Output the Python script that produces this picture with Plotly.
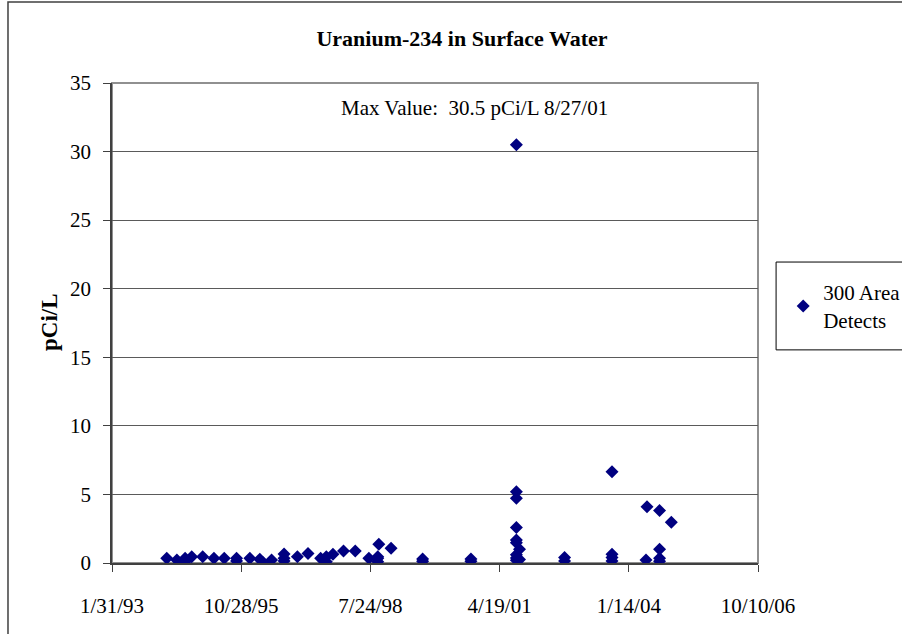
import plotly.graph_objects as go
import pandas as pd

# 300 Area detects
sample_dates = [
    "1994-03-31", "1994-06-17", "1994-08-20", "1994-08-20", "1994-10-10",
    "1995-01-03", "1995-03-31", "1995-06-19", "1995-09-22", "1995-09-22",
    "1996-01-03", "1996-03-20", "1996-04-15", "1996-06-19", "1996-09-24",
    "1996-09-24", "1996-09-24", "1997-01-05", "1997-03-28", "1997-07-04",
    "1997-08-17", "1997-08-17", "1997-10-07", "1997-12-28", "1998-03-29",
    "1998-07-12", "1998-09-19", "1998-09-19", "1998-09-19", "1998-09-27",
    "1998-12-31", "1999-09-01", "1999-09-01", "2000-09-09", "2000-09-09",
    "2001-08-27", "2001-08-27", "2001-08-27", "2001-08-27", "2001-08-27",
    "2001-08-27", "2001-09-20", "2001-08-27", "2001-08-27", "2001-08-27",
    "2001-09-20", "2002-09-04", "2002-09-04", "2003-09-06", "2003-09-06",
    "2003-09-06", "2003-09-06", "2004-05-26", "2004-06-03", "2004-09-08",
    "2004-09-08", "2004-09-08", "2004-09-08", "2004-12-08",
]
u234_values = [
    0.34, 0.22, 0.34, 0.10, 0.46,
    0.46, 0.34, 0.34, 0.34, 0.15,
    0.34, 0.27, 0.02, 0.22, 0.66,
    0.34, 0.15, 0.46, 0.70, 0.34,
    0.46, 0.10, 0.63, 0.87, 0.87,
    0.34, 0.46, 0.10, 0.34, 1.36,
    1.07, 0.30, 0.12, 0.30, 0.12,
    30.5, 5.2, 4.72, 2.58, 1.68,
    1.48, 1.0, 0.6, 0.36, 0.2,
    0.25, 0.4, 0.15, 6.66, 0.63,
    0.4, 0.15, 0.22, 4.1, 3.82,
    1.0, 0.35, 0.12, 2.97,
]

tick_dates = ["1993-01-31", "1995-10-28", "1998-07-24", "2001-04-19", "2004-01-14", "2006-10-10"]
tick_labels = ["1/31/93", "10/28/95", "7/24/98", "4/19/01", "1/14/04", "10/10/06"]
y_ticks = [0, 5, 10, 15, 20, 25, 30, 35]

df = pd.DataFrame({"date": pd.to_datetime(sample_dates), "value": u234_values})

serif = "Liberation Serif, Times New Roman, serif"

fig = go.Figure()
fig.add_trace(go.Scatter(
    x=df["date"], y=df["value"],
    mode="markers",
    name="300 Area<br>Detects",
    marker=dict(symbol="diamond", size=10, color="#000080"),
))

fig.update_layout(
    width=902, height=634,
    margin=dict(l=112, r=144, t=83, b=71, autoexpand=False),
    paper_bgcolor="white",
    plot_bgcolor="white",
    font=dict(family=serif, size=20, color="black"),
    title=dict(
        text="<b>Uranium-234 in Surface Water</b>",
        x=(462 - 112) / 646, xanchor="center", xref="paper",
        y=1 - 38 / 634, yanchor="middle",
        font=dict(size=22, family=serif),
    ),
    showlegend=True,
    legend=dict(
        x=1.039, y=0.606, xanchor="left", yanchor="top",
        bgcolor="rgba(0,0,0,0)",
        font=dict(size=21, family=serif),
        itemwidth=30,
    ),
    shapes=[
        # outer chart frame
        dict(type="rect", xref="paper", yref="paper",
             x0=-0.161, x1=1.25, y0=-0.2, y1=1.169,
             line=dict(color="#404040", width=1.5), layer="below"),
        # plot area frame
        dict(type="rect", xref="paper", yref="paper",
             x0=0, x1=1, y0=0, y1=1,
             line=dict(color="#909090", width=2), layer="below"),
        # legend box
        dict(type="rect", xref="paper", yref="paper",
             x0=1.028, x1=1.25, y0=0.444, y1=0.627,
             line=dict(color="black", width=1)),
    ],
    annotations=[
        dict(text="Max Value:  30.5 pCi/L 8/27/01",
             xref="paper", yref="y", x=(474 - 112) / 646, y=33.2,
             showarrow=False, font=dict(size=21, family=serif)),
        dict(text="<b>pCi/L</b>", textangle=-90,
             xref="paper", yref="paper", x=(49 - 112) / 646, y=(563 - 322) / 480,
             xanchor="center", yanchor="middle",
             showarrow=False, font=dict(size=23, family=serif)),
    ],
)

fig.update_xaxes(
    type="date",
    range=[tick_dates[0], tick_dates[-1]],
    tickmode="array", tickvals=tick_dates, ticktext=tick_labels,
    ticks="outside", ticklen=7, tickcolor="#404040",
    ticklabelstandoff=16,
    showline=True, linecolor="#404040", linewidth=1.5,
    showgrid=False, zeroline=False,
    tickfont=dict(size=21, family=serif),
)
fig.update_yaxes(
    range=[0, 35],
    tickmode="array", tickvals=y_ticks,
    ticks="outside", ticklen=7, tickcolor="#404040",
    ticklabelstandoff=8,
    showline=True, linecolor="#404040", linewidth=1.5,
    showgrid=True, gridcolor="#5a5a5a", gridwidth=1,
    zeroline=False,
    tickfont=dict(size=21, family=serif),
)

# page body has a default 8px margin; drop it so the figure sits at 0,0
fig.write_html("out.html", config={"displayModeBar": False},
               post_script="document.body.style.margin='0';")
